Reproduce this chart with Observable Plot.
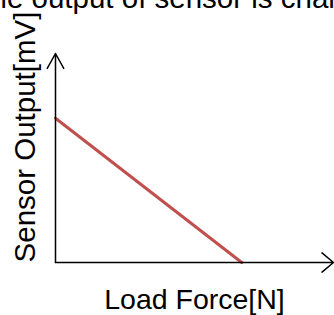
<!DOCTYPE html>
<html><head><meta charset="utf-8">
<script src="https://cdn.jsdelivr.net/npm/d3@7"></script>
<script src="https://cdn.jsdelivr.net/npm/@observablehq/plot@0.6"></script>
<style>html,body{margin:0;padding:0;background:#fff;overflow:hidden}</style>
</head><body><div id="chart"></div>
<script>
// Data (schematic: output falls linearly as load rises)
const loadForce = [0, 67];
const sensorOutput = [69, 0];
const xAxisExtent = [0, 100];
const yAxisExtent = [0, 100];
const titleText = "The output of sensor is changed";
const xLabel = "Load Force[N]";
const yLabel = "Sensor Output[mV]";

const lineData = loadForce.map((x, i) => ({x, y: sensorOutput[i]}));
const xAxisData = [{x1: xAxisExtent[0], y1: yAxisExtent[0], x2: xAxisExtent[1], y2: yAxisExtent[0]}];
const yAxisData = [{x1: xAxisExtent[0], y1: yAxisExtent[0], x2: xAxisExtent[0], y2: yAxisExtent[1]}];
const font = "'Liberation Sans', Arial, sans-serif";

const chart = Plot.plot({
  width: 334, height: 315,
  marginLeft: 55, marginRight: 1, marginTop: 53, marginBottom: 53,
  x: {domain: xAxisExtent, axis: null},
  y: {domain: yAxisExtent, axis: null},
  style: {fontFamily: font, fontSize: "28px", background: "white", color: "black"},
  marks: [
    Plot.line(lineData, {x: "x", y: "y", stroke: "#c0504d", strokeWidth: 3}),
    Plot.arrow(xAxisData, {x1: "x1", y1: "y1", x2: "x2", y2: "y2", stroke: "black", strokeWidth: 1.5, headAngle: 80, headLength: 15}),
    Plot.arrow(yAxisData, {x1: "x1", y1: "y1", x2: "x2", y2: "y2", stroke: "black", strokeWidth: 1.5, headAngle: 58, headLength: 17}),
    Plot.text([xLabel], {text: d => d, frameAnchor: "bottom", lineAnchor: "bottom", dy: 46, fontSize: 28.5, fill: "black"}),
    Plot.text([yLabel], {text: d => d, frameAnchor: "left", textAnchor: "middle", rotate: -90, lineAnchor: "bottom", dx: -21, dy: -21, fontSize: 29.5, fill: "black"}),
    Plot.text([titleText], {text: d => d, frameAnchor: "top-left", textAnchor: "start", lineAnchor: "bottom", dx: -83, dy: -46, fontSize: 29.5, fill: "black"})
  ]
});
document.getElementById("chart").appendChild(chart);
</script>
</body></html>
